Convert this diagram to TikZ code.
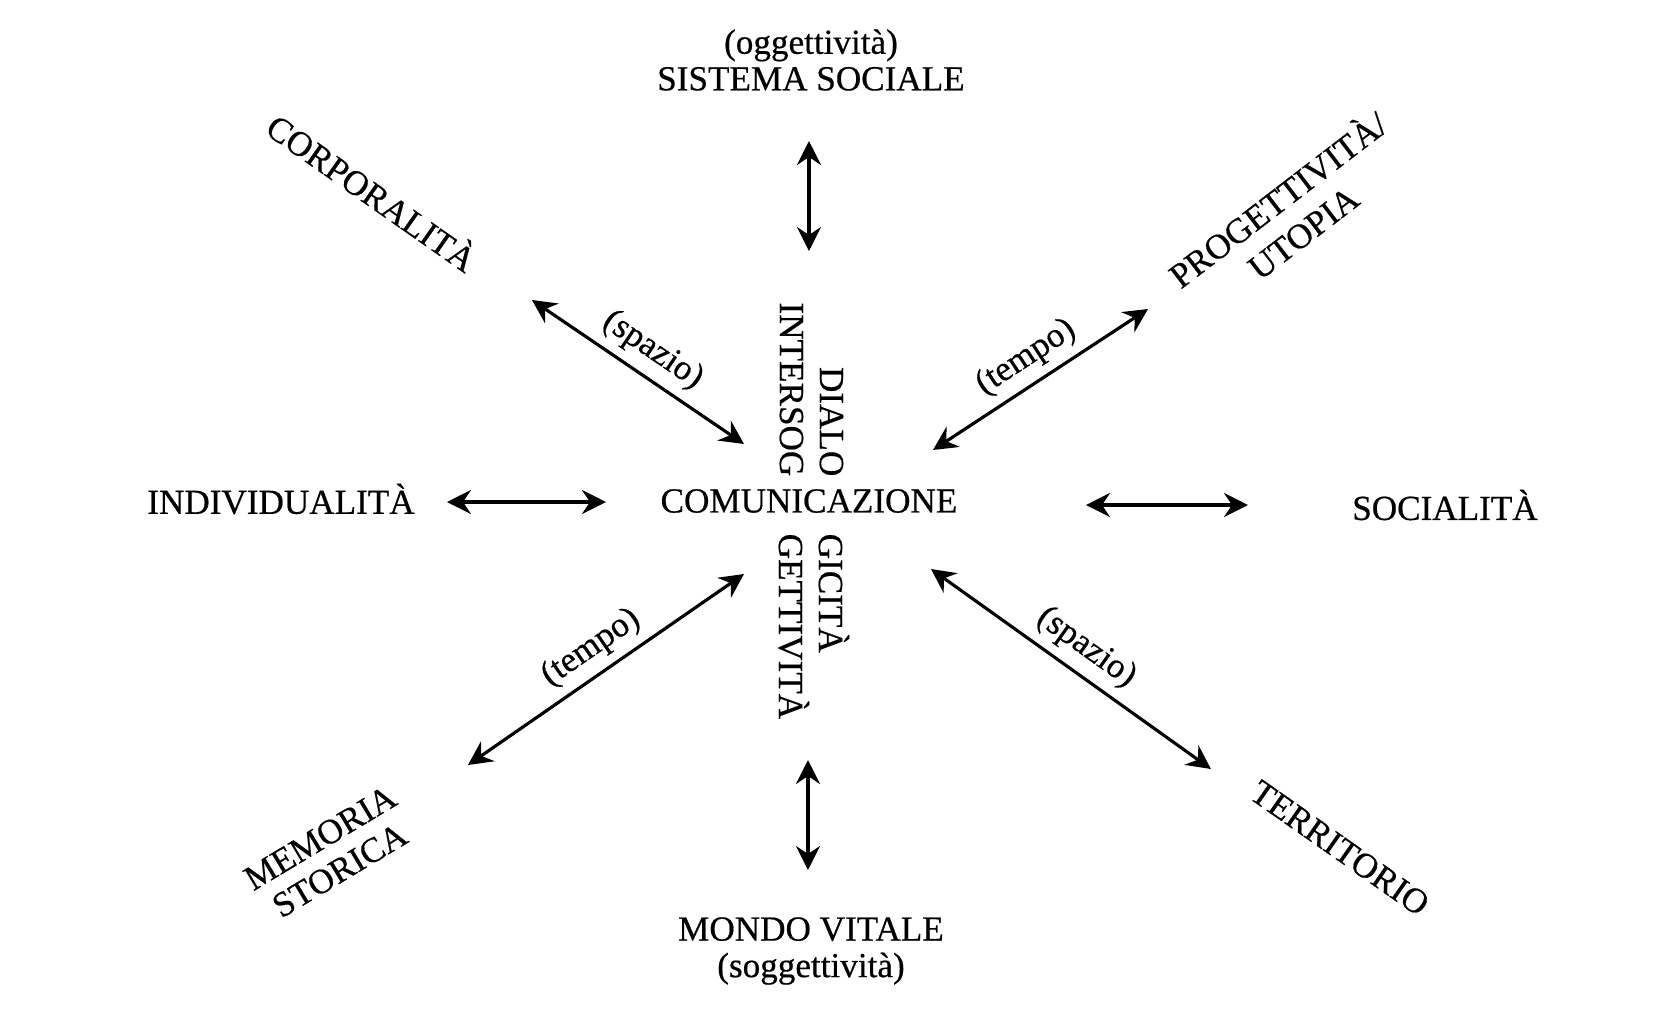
\documentclass[tikz,border=0pt]{standalone}
\usepackage{fontspec}
\setmainfont[FakeBold=0.5]{Liberation Serif}
\usetikzlibrary{arrows.meta}

\begin{document}
\begin{tikzpicture}[
  >={Stealth[length=2.4mm, width=2.4mm, inset=0.8mm]},
  every node/.style={font=\fontsize{10}{10.4}\selectfont},
  term/.style={align=center, inner sep=0pt},
  vword/.style={rotate=-90, inner sep=0pt},
  arr/.style={<->, line width=0.9pt},
  lbl/.style={midway, sloped, above, inner sep=2.5pt},
]
  \useasboundingbox (-8.09,-5.14) rectangle (8.64,5.01);

  \node[term] (comm) at (0, 0) {COMUNICAZIONE};
  \node[vword, anchor=base east] (dia1) at (0.11, 0.24) {DIALO};
  \node[vword, anchor=base west] (dia2) at (0.10, -0.32) {GICITÀ};
  \node[vword, anchor=base east] (int1) at (-0.29, 0.24) {INTERSOG};
  \node[vword, anchor=base west] (int2) at (-0.30, -0.32) {GETTIVITÀ};

  \node[term] (sist) at (0.02, 4.41) {(oggettività)\\SISTEMA SOCIALE};
  \node[term] (mondo) at (0.02, -4.50) {MONDO VITALE\\(soggettività)};
  \node[term] (indiv) at (-5.28, 0.02) {INDIVIDUALITÀ};
  \node[term] (soc) at (6.36, -0.04) {SOCIALITÀ};
  \node[term, rotate=-35] (corp) at (-4.36, 3.10) {CORPORALITÀ};
  \node[term, rotate=37.5, font=\fontsize{10}{11.8}\selectfont] (prog) at (4.80, 2.87)
    {PROGETTIVITÀ/\\UTOPIA};
  \node[term, rotate=31, font=\fontsize{10}{10.8}\selectfont] (mem) at (-4.79, -3.53)
    {MEMORIA\\STORICA};
  \node[term, rotate=-35] (terr) at (5.31, -3.47) {TERRITORIO};

  \coordinate (topA) at (0, 3.60);
  \coordinate (topB) at (0, 2.50);
  \coordinate (botA) at (-0.01, -2.59);
  \coordinate (botB) at (-0.01, -3.69);
  \coordinate (leftA) at (-3.62, -0.01);
  \coordinate (leftB) at (-2.03, -0.01);
  \coordinate (rightA) at (2.77, -0.04);
  \coordinate (rightB) at (4.39, -0.04);
  \coordinate (ulA) at (-2.77, 2.01);
  \coordinate (ulB) at (-0.65, 0.57);
  \coordinate (urA) at (1.24, 0.51);
  \coordinate (urB) at (3.39, 1.92);
  \coordinate (llA) at (-3.41, -2.64);
  \coordinate (llB) at (-0.65, -0.73);
  \coordinate (lrA) at (1.22, -0.68);
  \coordinate (lrB) at (4.02, -2.68);

  \draw[arr] (topA) -- (topB);
  \draw[arr] (botA) -- (botB);
  \draw[arr] (leftA) -- (leftB);
  \draw[arr] (rightA) -- (rightB);
  \draw[arr] (ulA) -- (ulB) node[lbl] (spA) {(spazio)};
  \draw[arr] (urA) -- (urB) node[lbl] (teA) {(tempo)};
  \draw[arr] (llA) -- (llB) node[lbl] (teB) {(tempo)};
  \draw[arr] (lrA) -- (lrB) node[lbl] (spB) {(spazio)};
\end{tikzpicture}
\end{document}
